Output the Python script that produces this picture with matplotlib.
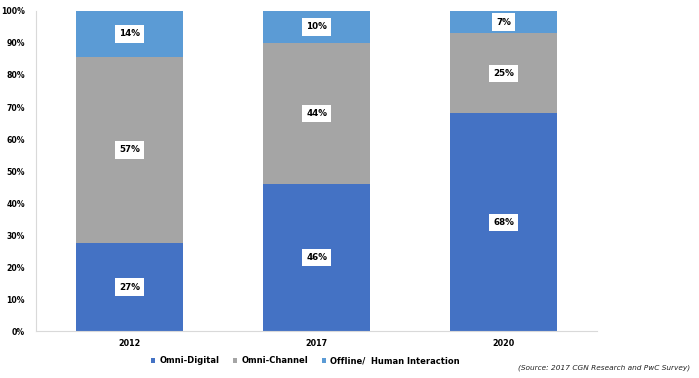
import matplotlib
matplotlib.use("Agg")
import matplotlib.pyplot as plt
from matplotlib.ticker import FuncFormatter
import numpy as np

anos = ["2012", "2017", "2020"]
omni_digital = [27, 46, 68]
omni_channel = [57, 44, 25]
offline = [14, 10, 7]
series_nomes = ["Omni-Digital", "Omni-Channel", "Offline/  Human Interaction"]
cores = ["#4472C4", "#A5A5A5", "#5B9BD5"]

plt.rcParams.update({"font.family": "DejaVu Sans", "font.size": 6})

fig = plt.figure(figsize=(6.99, 3.78), dpi=100)
ax = fig.add_axes([0.0515, 0.124, 0.803, 0.847])

dados = np.array([omni_digital, omni_channel, offline], dtype=float)
totais = dados.sum(axis=0)
x = np.arange(len(anos))
base = np.zeros(len(anos))
for vals, nome, cor in zip(dados, series_nomes, cores):
    frac = vals / totais * 100
    ax.bar(x, frac, bottom=base, width=0.57, color=cor, label=nome)
    for xi, b, f, v in zip(x, base, frac, vals):
        ax.text(xi, b + f / 2, f"{int(v)}%", ha="center", va="center",
                fontsize=6.3, fontweight="bold",
                bbox=dict(facecolor="white", edgecolor="none", pad=3))
    base += frac

ax.set_xlim(-0.5, len(anos) - 0.5)
ax.set_ylim(0, 100)
ax.set_yticks(range(0, 101, 10))
ax.yaxis.set_major_formatter(FuncFormatter(lambda v, _: f"{int(v)}%"))
ax.set_xticks(x)
ax.set_xticklabels(anos, fontweight="bold", fontsize=5.8)
for t in ax.get_yticklabels():
    t.set_fontweight("bold")
    t.set_fontsize(5.6)
ax.tick_params(axis="y", length=0, pad=8)
ax.tick_params(axis="x", length=0, pad=6)
for s in ["top", "right"]:
    ax.spines[s].set_visible(False)
for s in ["left", "bottom"]:
    ax.spines[s].set_color("#D9D9D9")
    ax.spines[s].set_linewidth(0.8)

leg = fig.legend(loc="center", bbox_to_anchor=(0.437, 0.045), ncol=3, frameon=False,
                 fontsize=6, handlelength=0.55, handleheight=0.55, columnspacing=1.6,
                 handletextpad=0.5)
for t in leg.get_texts():
    t.set_fontweight("bold")

fig.text(0.987, 0.027, "(Source: 2017 CGN Research and PwC Survey)", ha="right",
         va="center", fontsize=5.3, style="italic", color="#222222")

fig.savefig("out.png", dpi=100)
